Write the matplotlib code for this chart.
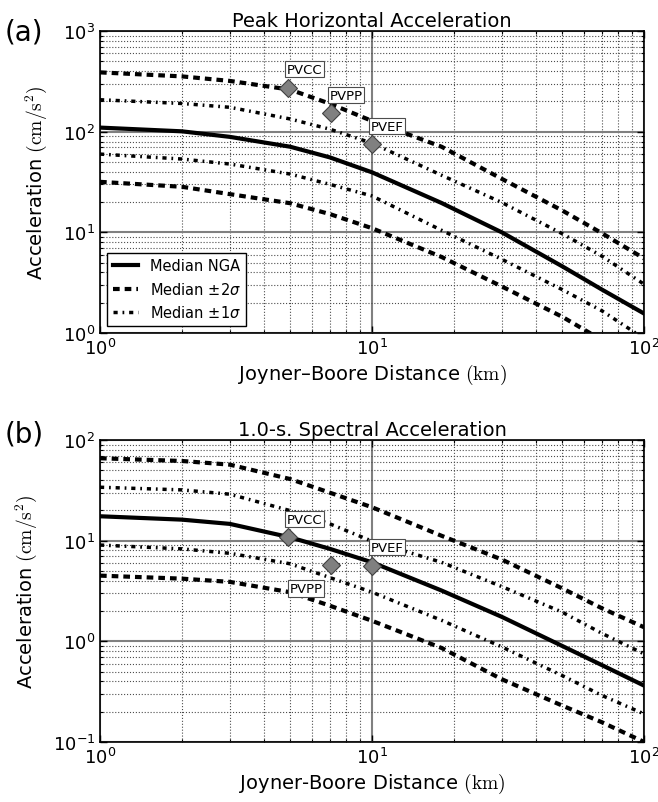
import matplotlib
matplotlib.use("Agg")
import matplotlib.pyplot as plt

# Joyner-Boore distance (km)
dist = [1, 2, 3, 5, 7, 10, 18, 30, 50, 70, 100]

# (a) peak horizontal acceleration, cm/s^2
pga_med = [110, 101, 89, 71, 55.6, 39.5, 19.6, 10.0, 4.6, 2.7, 1.56]
pga_p2 = [389, 355, 320, 262, 190, 128, 71, 34, 16.5, 9.8, 5.5]
pga_p1 = [208, 191, 175, 134, 106, 77, 37, 19.8, 9.7, 5.8, 3.05]
pga_m1 = [60, 53.6, 47.8, 38, 30, 23, 10.5, 5.4, 2.7, 1.66, 0.88]
pga_m2 = [31.8, 28.4, 24, 19.5, 15.2, 11.0, 5.7, 2.9, 1.45, 0.85, 0.45]

# (b) 1.0-s spectral acceleration, cm/s^2
sa_med = [17.5, 16.2, 14.7, 10.8, 8.3, 6.1, 3.2, 1.75, 0.9, 0.58, 0.363]
sa_p2 = [66, 62, 57, 41, 30, 21.5, 11.2, 6.5, 3.36, 2.13, 1.38]
sa_p1 = [34, 32, 29, 19.9, 14.7, 9.9, 6.1, 3.5, 1.95, 1.2, 0.75]
sa_m1 = [9.06, 8.3, 7.5, 5.9, 4.3, 3.08, 1.62, 0.88, 0.457, 0.29, 0.19]
sa_m2 = [4.5, 4.2, 3.9, 3.08, 2.26, 1.6, 0.86, 0.42, 0.23, 0.157, 0.10]

# stations
stations = ["PVCC", "PVPP", "PVEF"]
sta_dist = [4.9, 7.07, 10.0]
sta_pga = [275, 152, 75]
sta_sa = [10.8, 5.7, 5.65]

DASH = (0, (1.6, 1.2))
DOTDASH = (0, (1.2, 1.4, 0.5, 1.4))


def draw_panel(ax, med, p2, p1, m1, m2, sta_vals, ylim, title, xlabel, offsets):
    ax.plot(dist, med, color="k", lw=3, label="Median NGA")
    ax.plot(dist, p2, color="k", lw=3, ls=DASH, label=r"Median $\pm2\sigma$")
    ax.plot(dist, m2, color="k", lw=3, ls=DASH)
    ax.plot(dist, p1, color="k", lw=2.5, ls=DOTDASH, label=r"Median $\pm1\sigma$")
    ax.plot(dist, m1, color="k", lw=2.5, ls=DOTDASH)

    ax.plot(sta_dist, sta_vals, ls="none", marker="D", ms=9,
            mfc="0.5", mec="0.25", mew=0.8, zorder=5)
    for name, d, v, off in zip(stations, sta_dist, sta_vals, offsets):
        va = "bottom" if off[1] > 0 else "top"
        ax.annotate(name, (d, v), xytext=off, textcoords="offset points",
                    ha="left", va=va, fontsize=9.5, zorder=6,
                    bbox=dict(boxstyle="square,pad=0.12", fc="white",
                              ec="0.3", lw=0.8))

    ax.set_xscale("log")
    ax.set_yscale("log")
    ax.set_xlim(1, 100)
    ax.set_ylim(*ylim)
    ax.set_axisbelow(True)
    ax.grid(True, which="major", color="0.5", lw=1.5, ls="-")
    ax.grid(True, which="minor", color="0.3", lw=0.8, ls=":")
    ax.tick_params(which="both", direction="in", top=True, right=True,
                   labelsize=13)
    ax.tick_params(which="major", length=5, width=1)
    ax.tick_params(which="minor", length=2.5, width=0.8)
    for sp in ax.spines.values():
        sp.set_linewidth(1.2)

    ax.set_title(title, fontsize=14, pad=4)
    ax.set_xlabel(xlabel + r" $(\mathrm{km})$", fontsize=14,
                  math_fontfamily="cm", labelpad=3)
    ax.set_ylabel(r"Acceleration $(\mathrm{cm/s^2})$", fontsize=14,
                  math_fontfamily="cm", labelpad=10)


fig = plt.figure(figsize=(6.58, 8.03), dpi=100)
ax_a = fig.add_axes([0.152, 0.584, 0.827, 0.376])
ax_b = fig.add_axes([0.152, 0.0747, 0.827, 0.376])

draw_panel(ax_a, pga_med, pga_p2, pga_p1, pga_m1, pga_m2, sta_pga, (1, 1000),
           "Peak Horizontal Acceleration", "Joyner\u2013Boore Distance",
           [(-1, 8.5), (-1, 8.5), (-1, 8.5)])
draw_panel(ax_b, sa_med, sa_p2, sa_p1, sa_m1, sa_m2, sta_sa, (0.1, 100),
           "1.0-s. Spectral Acceleration", "Joyner-Boore Distance",
           [(-1, 8.5), (-30, -12), (-1, 8.5)])

ax_a.legend(loc="lower left", fontsize=10.5, handlelength=1.7, fancybox=False,
            edgecolor="k", framealpha=1, borderaxespad=0.5)

fig.text(5 / 658, 1 - 40 / 803, "(a)", fontsize=20, va="baseline")
fig.text(5 / 658, 1 - 443 / 803, "(b)", fontsize=20, va="baseline")

fig.savefig("out.png", dpi=100)
